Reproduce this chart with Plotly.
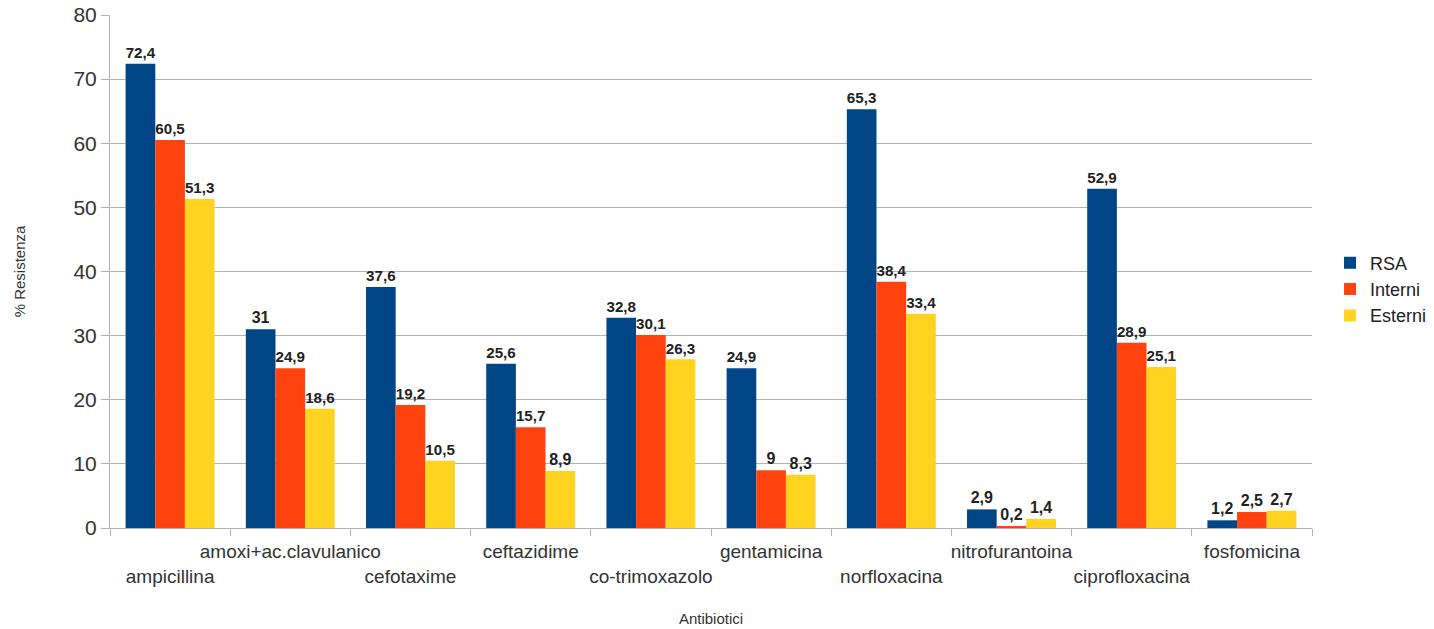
import plotly.graph_objects as go

antibiotici = ["ampicillina", "amoxi+ac.clavulanico", "cefotaxime", "ceftazidime",
               "co-trimoxazolo", "gentamicina", "norfloxacina", "nitrofurantoina",
               "ciprofloxacina", "fosfomicina"]
rsa = [72.4, 31, 37.6, 25.6, 32.8, 24.9, 65.3, 2.9, 52.9, 1.2]
interni = [60.5, 24.9, 19.2, 15.7, 30.1, 9, 38.4, 0.2, 28.9, 2.5]
esterni = [51.3, 18.6, 10.5, 8.9, 26.3, 8.3, 33.4, 1.4, 25.1, 2.7]

series = [("RSA", rsa, "#004586"), ("Interni", interni, "#ff420e"), ("Esterni", esterni, "#ffd320")]

FONT = "Liberation Sans, Arial, sans-serif"


def fmt(v):
    return f"{v:g}".replace(".", ",")


fig = go.Figure()
for name, vals, color in series:
    fig.add_trace(go.Bar(
        x=antibiotici, y=vals, name=name, marker_color=color, marker_line_width=0,
        text=[fmt(v) for v in vals], textposition="outside",
        textfont=dict(family=FONT, size=16, color="#222222"),
        texttemplate="<b>%{text}</b>", cliponaxis=False,
    ))

# staggered category labels: even positions on the lower row
ticktext = [("<br>" + t) if i % 2 == 0 else t for i, t in enumerate(antibiotici)]

fig.update_layout(
    width=1434, height=629,
    margin=dict(l=110, r=122, t=15, b=101, autoexpand=False),
    paper_bgcolor="white", plot_bgcolor="white",
    barmode="group", bargap=0.26, bargroupgap=0,
    font=dict(family=FONT, color="#333333"),
    showlegend=True,
    legend=dict(x=1.015, xanchor="left", y=0.465, yanchor="middle",
                font=dict(size=18, color="#222222"), traceorder="normal",
                itemwidth=30, tracegroupgap=2),
    xaxis=dict(
        tickmode="array", tickvals=antibiotici, ticktext=ticktext,
        tickson="boundaries", ticks="outside", ticklen=7, tickcolor="#b3b3b3",
        ticklabelstandoff=6,
        showline=True, linecolor="#b3b3b3", linewidth=1,
        showgrid=False, tickangle=0,
        tickfont=dict(size=19, color="#333333"),
        title=dict(text="Antibiotici", font=dict(size=15, color="#333333"), standoff=27),
    ),
    yaxis=dict(
        range=[0, 80], dtick=10, tick0=0,
        showgrid=True, gridcolor="#b3b3b3", gridwidth=1,
        ticks="outside", ticklen=8, tickcolor="#b3b3b3",
        showline=True, linecolor="#b3b3b3", linewidth=1,
        zeroline=False,
        tickfont=dict(size=21, color="#333333"),
        title=dict(text="% Resistenza", font=dict(size=15, color="#333333"), standoff=44),
    ),
)

fig.write_html("out.html")
